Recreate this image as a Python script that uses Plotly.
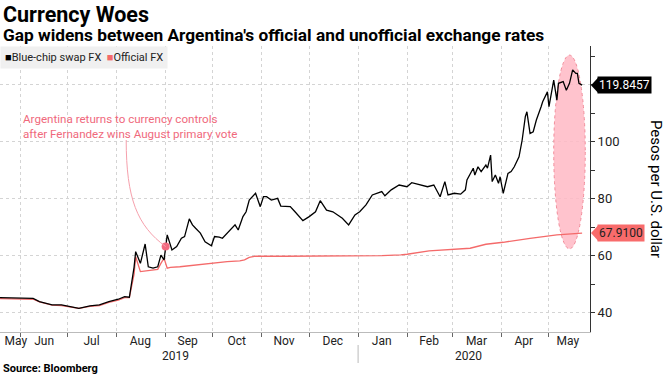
import plotly.graph_objects as go

# ---------------- data ----------------
blue_dates = [
    "2019-05-19", "2019-05-25", "2019-06-01", "2019-06-09", "2019-06-13", "2019-06-17", "2019-06-21",
    "2019-06-27", "2019-07-04", "2019-07-08", "2019-07-15", "2019-07-21", "2019-07-27", "2019-08-02",
    "2019-08-06", "2019-08-09", "2019-08-12", "2019-08-13", "2019-08-16", "2019-08-19", "2019-08-21",
    "2019-08-24", "2019-08-27", "2019-08-29", "2019-08-31", "2019-09-02", "2019-09-05", "2019-09-08",
    "2019-09-11", "2019-09-13", "2019-09-16", "2019-09-18", "2019-09-20", "2019-09-23", "2019-09-26",
    "2019-09-30", "2019-10-02", "2019-10-05", "2019-10-07", "2019-10-10", "2019-10-15", "2019-10-17",
    "2019-10-20", "2019-10-22", "2019-10-24", "2019-10-28", "2019-10-31", "2019-11-02", "2019-11-04",
    "2019-11-07", "2019-11-11", "2019-11-13", "2019-11-19", "2019-11-22", "2019-11-27", "2019-12-01",
    "2019-12-05", "2019-12-08", "2019-12-12", "2019-12-16", "2019-12-19", "2019-12-22", "2019-12-26",
    "2019-12-30", "2020-01-02", "2020-01-06", "2020-01-10", "2020-01-16", "2020-01-18", "2020-01-22",
    "2020-01-27", "2020-02-01", "2020-02-04", "2020-02-09", "2020-02-14", "2020-02-18", "2020-02-22",
    "2020-02-25", "2020-02-27", "2020-03-02", "2020-03-06", "2020-03-09", "2020-03-10", "2020-03-14",
    "2020-03-15", "2020-03-17", "2020-03-19", "2020-03-22", "2020-03-23", "2020-03-25", "2020-03-26",
    "2020-03-28", "2020-03-30", "2020-03-31", "2020-04-02", "2020-04-05", "2020-04-07", "2020-04-09",
    "2020-04-12", "2020-04-14", "2020-04-16", "2020-04-17", "2020-04-19", "2020-04-21", "2020-04-23",
    "2020-04-26", "2020-04-27", "2020-04-30", "2020-05-01", "2020-05-04", "2020-05-06", "2020-05-07",
    "2020-05-10", "2020-05-12", "2020-05-14", "2020-05-16", "2020-05-18", "2020-05-19", "2020-05-20",
    "2020-05-22",
]
blue_values = [
    45.3, 45.2, 45.0, 45.0, 43.9, 43.3, 42.7,
    42.7, 41.8, 41.5, 42.4, 42.7, 43.9, 44.7,
    45.6, 45.4, 56.0, 61.4, 57.3, 64.1, 56.1,
    55.6, 56.1, 60.2, 58.5, 67.3, 62.0, 63.2,
    66.1, 66.7, 72.9, 70.8, 69.6, 67.9, 64.9,
    63.5, 66.7, 66.5, 66.1, 67.9, 70.8, 69.0,
    73.7, 75.4, 79.5, 81.9, 77.2, 80.7, 80.7,
    79.5, 80.1, 77.4, 77.2, 75.4, 72.3, 73.7,
    75.4, 79.3, 76.0, 75.4, 74.3, 73.1, 70.8,
    74.3, 75.4, 77.8, 81.3, 82.5, 81.0, 83.1,
    84.8, 84.2, 85.6, 84.8, 84.2, 84.8, 80.7,
    86.0, 81.3, 81.9, 81.6, 83.1, 86.6, 90.7,
    88.3, 91.2, 89.5, 91.8, 90.7, 95.3, 86.0,
    88.3, 85.4, 87.7, 81.9, 88.9, 89.5, 91.2,
    94.7, 100.6, 108.8, 110.5, 102.9, 103.5, 107.6,
    112.3, 114.0, 117.5, 112.3, 121.6, 114.6, 120.5,
    121.1, 118.1, 120.5, 125.2, 124.0, 124.0, 120.5,
    119.8457,
]

official_dates = [
    "2019-05-19", "2019-05-25", "2019-06-01", "2019-06-09", "2019-06-13", "2019-06-21", "2019-06-27",
    "2019-07-04", "2019-07-08", "2019-07-15", "2019-07-21", "2019-07-27", "2019-08-02", "2019-08-06",
    "2019-08-09", "2019-08-12", "2019-08-13", "2019-08-16", "2019-08-21", "2019-08-27", "2019-08-29",
    "2019-08-31", "2019-09-02", "2019-09-04", "2019-09-10", "2019-09-20", "2019-10-01", "2019-10-10",
    "2019-10-18", "2019-10-21", "2019-10-24", "2019-10-28", "2019-11-15", "2019-12-10", "2020-01-01",
    "2020-01-16", "2020-01-28", "2020-02-01", "2020-02-15", "2020-03-12", "2020-03-22", "2020-04-02",
    "2020-04-19", "2020-05-06", "2020-05-22",
]
official_values = [
    44.9, 44.9, 44.7, 44.7, 43.8, 42.6, 42.5,
    41.9, 41.5, 42.2, 42.5, 43.6, 44.4, 45.3,
    45.3, 53.5, 59.6, 54.4, 54.7, 55.2, 57.3,
    59.1, 55.6, 55.9, 56.1, 56.7, 57.5, 57.9,
    58.2, 58.5, 59.4, 59.8, 59.8, 59.9, 59.9,
    60.0, 60.3, 60.5, 61.7, 62.6, 64.0, 64.7,
    66.1, 67.3, 67.91,
]

month_tick_dates = ["2019-05-29", "2019-06-16", "2019-07-16", "2019-08-16", "2019-09-15", "2019-10-16",
                    "2019-11-15", "2019-12-16", "2020-01-16", "2020-02-15", "2020-03-16", "2020-04-15",
                    "2020-05-13"]
month_tick_labels = ["May", "Jun", "Jul", "Aug", "Sep", "Oct", "Nov", "Dec", "Jan", "Feb", "Mar", "Apr", "May"]
year_labels = ["2019", "2020"]
year_label_dates = ["2019-09-07", "2020-03-11"]
y_tick_values = [40, 60, 80, 100, 120]
y_tick_labels = ["40", "60", "80", "100", ""]   # 120 sits under the last-value label

series_names = ["Blue-chip swap FX", "Official FX"]
last_labels = ["119.8457", "67.9100"]

event_date = "2019-09-01"
event_value = 63.2

X_RANGE = ["2019-05-19", "2020-05-27"]
Y_RANGE = [33.2, 133.6]

BLACK = "#000000"
RED = "#f46a6a"
PINK_TXT = "#f0697c"
FONT = "Roboto, Liberation Sans, sans-serif"

PLOT_W = 590.0
PLOT_H = 286.0


def ypaper(v):
    return (v - Y_RANGE[0]) / (Y_RANGE[1] - Y_RANGE[0])


fig = go.Figure()

fig.add_trace(go.Scatter(x=official_dates, y=official_values, mode="lines", name=series_names[1],
                         line=dict(color=RED, width=1.3), showlegend=False, hoverinfo="skip"))
fig.add_trace(go.Scatter(x=blue_dates, y=blue_values, mode="lines", name=series_names[0],
                         line=dict(color=BLACK, width=1.3), showlegend=False, hoverinfo="skip"))
# event dot
fig.add_trace(go.Scatter(x=[event_date], y=[event_value], mode="markers",
                         marker=dict(size=8, color="#f26a80"), showlegend=False, hoverinfo="skip"))

shapes = []
# highlight ellipse
shapes.append(dict(type="circle", xref="x", yref="y", x0="2020-05-04", x1="2020-05-24",
                   y0=62.4, y1=130.4, fillcolor="rgba(255,184,196,0.85)",
                   line=dict(color="#f28c9a", width=1, dash="dot"), layer="between"))
# curved connector
shapes.append(dict(type="path", xref="x", yref="y",
                   path="M 2019-08-07,100.6 C 2019-08-07,80 2019-08-14,70.5 " + event_date + "," + str(event_value),
                   line=dict(color="#f6a0ac", width=1)))
# year separator
shapes.append(dict(type="line", xref="x", yref="paper", x0="2020-01-01", x1="2020-01-01",
                   y0=-13 / PLOT_H, y1=-31 / PLOT_H, line=dict(color="#bbbbbb", width=1)))

annotations = []
# last-value labels
for val, txt, bg, fg in [(blue_values[-1], last_labels[0], BLACK, "#ffffff"),
                         (official_values[-1], last_labels[1], "#f86b6b", "#222222")]:
    yp = ypaper(val)
    shapes.append(dict(type="path", xref="paper", yref="paper",
                       path="M %f,%f L %f,%f L %f,%f Z" % (
                           1 + 1 / PLOT_W, yp,
                           1 + 8 / PLOT_W, yp + 7.5 / PLOT_H,
                           1 + 8 / PLOT_W, yp - 7.5 / PLOT_H),
                       fillcolor=bg, line=dict(width=0)))
    annotations.append(dict(xref="paper", yref="y", x=1, y=val, xanchor="left", yanchor="middle",
                            xshift=7, text=txt, showarrow=False, bgcolor=bg, borderpad=1,
                            font=dict(family=FONT, size=12, color=fg)))

# legend (compact, square swatches)
annotations.append(dict(xref="paper", yref="paper", x=0, y=1, xanchor="left", yanchor="top",
                        text=("<span style='color:%s'>■</span>%s  <span style='color:%s'>■</span>%s"
                              % (BLACK, series_names[0], RED, series_names[1])),
                        showarrow=False, bgcolor="#f0f0f0", borderpad=4,
                        font=dict(family=FONT, size=11, color="#222222")))

# titles
annotations.append(dict(xref="paper", yref="paper", x=0, y=1 + (46 - 14) / PLOT_H, xanchor="left",
                        yanchor="middle", xshift=1, text="<b>Currency Woes</b>", showarrow=False,
                        font=dict(family=FONT, size=21.5, color="#000000")))
annotations.append(dict(xref="paper", yref="paper", x=0, y=1 + (46 - 34.5) / PLOT_H, xanchor="left",
                        yanchor="middle", xshift=1,
                        text="<b>Gap widens between Argentina's official and unofficial exchange rates</b>",
                        showarrow=False, font=dict(family=FONT, size=17.3, color="#000000")))
annotations.append(dict(xref="paper", yref="paper", x=0, y=-(368 - 332) / PLOT_H, xanchor="left",
                        yanchor="middle", xshift=1, text="<b>Source: Bloomberg</b>", showarrow=False,
                        font=dict(family=FONT, size=11, color="#000000")))
# axis title (reads top to bottom)
annotations.append(dict(xref="paper", yref="paper", x=1 + (656 - PLOT_W) / PLOT_W, y=0.50,
                        xanchor="center", yanchor="middle", textangle=90,
                        text="Pesos per U.S. dollar", showarrow=False,
                        font=dict(family=FONT, size=15, color="#000000")))
# year labels
for d, t in zip(year_label_dates, year_labels):
    annotations.append(dict(xref="x", yref="paper", x=d, y=-(356 - 332) / PLOT_H, xanchor="center",
                            yanchor="middle", text=t, showarrow=False,
                            font=dict(family=FONT, size=12, color="#222222")))
# event note
annotations.append(dict(xref="x", yref="y", x="2019-06-01", y=105.2, xanchor="left", yanchor="middle",
                        align="left",
                        text="Argentina returns to currency controls<br>after Fernandez wins August primary vote",
                        showarrow=False, font=dict(family=FONT, size=11.6, color=PINK_TXT)))

fig.update_layout(
    width=666, height=375,
    margin=dict(l=0, r=76, t=46, b=43, autoexpand=False),
    paper_bgcolor="white", plot_bgcolor="white",
    font=dict(family=FONT, size=12, color="#222222"),
    shapes=shapes, annotations=annotations,
    showlegend=False,
    xaxis=dict(type="date", range=X_RANGE, tickmode="array", tickvals=month_tick_dates,
               ticktext=month_tick_labels, ticks="", showgrid=False, showline=True,
               linecolor="#bbbbbb", linewidth=1, zeroline=False, ticklabelstandoff=-2,
               tickfont=dict(family=FONT, size=12, color="#222222"),
               minor=dict(tick0="2019-06-01", dtick="M1", ticks="outside", ticklen=4,
                          tickcolor="#666666", showgrid=True, gridcolor="#d4d4d4",
                          griddash="dot", gridwidth=1)),
    yaxis=dict(side="right", range=Y_RANGE, tickmode="array", tickvals=y_tick_values,
               ticktext=y_tick_labels,
               ticks="outside", ticklen=4, tickcolor="#333333", showgrid=True,
               gridcolor="#d4d4d4", griddash="dot", gridwidth=1, showline=True,
               linecolor="#333333", linewidth=1, zeroline=False,
               tickfont=dict(family=FONT, size=13, color="#222222"),
               minor=dict(tick0=0, dtick=10, ticks="outside", ticklen=4, tickcolor="#333333",
                          showgrid=False)),
)

fig.write_html("out.html", config={"displayModeBar": False},
               post_script="document.body.style.margin='0px';document.body.style.overflow='hidden';")
